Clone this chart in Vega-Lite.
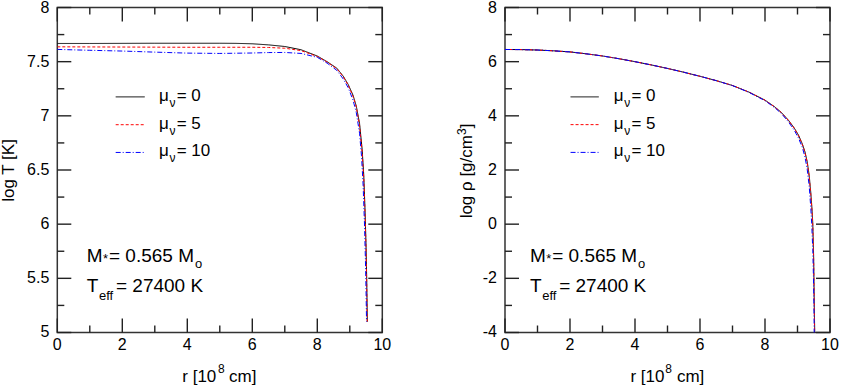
{
  "$schema": "https://vega.github.io/schema/vega-lite/v6.json",
  "padding": {"left": -1.7, "top": -1.5, "right": 5, "bottom": 5},
  "bounds": "flush",
  "spacing": 122.7,
  "config": {
    "view": {"stroke": "#333", "strokeWidth": 1.5},
    "font": "Liberation Sans"
  },
  "datasets": {
    "T": [
      {"mu": "0", "r": 0, "v": 7.668}, {"mu": "0", "r": 1, "v": 7.668}, {"mu": "0", "r": 2, "v": 7.669}, {"mu": "0", "r": 3, "v": 7.67}, {"mu": "0", "r": 4, "v": 7.67}, {"mu": "0", "r": 5, "v": 7.67}, {"mu": "0", "r": 5.5, "v": 7.669}, {"mu": "0", "r": 6, "v": 7.665}, {"mu": "0", "r": 6.5, "v": 7.655}, {"mu": "0", "r": 7, "v": 7.64}, {"mu": "0", "r": 7.5, "v": 7.61}, {"mu": "0", "r": 8, "v": 7.552}, {"mu": "0", "r": 8.3, "v": 7.5}, {"mu": "0", "r": 8.6, "v": 7.44}, {"mu": "0", "r": 8.8, "v": 7.365}, {"mu": "0", "r": 8.95, "v": 7.29}, {"mu": "0", "r": 9.1, "v": 7.19}, {"mu": "0", "r": 9.2, "v": 7.09}, {"mu": "0", "r": 9.3, "v": 6.93}, {"mu": "0", "r": 9.38, "v": 6.69}, {"mu": "0", "r": 9.43, "v": 6.45}, {"mu": "0", "r": 9.47, "v": 6.12}, {"mu": "0", "r": 9.5, "v": 5.8}, {"mu": "0", "r": 9.52, "v": 5.5}, {"mu": "0", "r": 9.54, "v": 5.1},
      {"mu": "5", "r": 0, "v": 7.637}, {"mu": "5", "r": 1, "v": 7.636}, {"mu": "5", "r": 2, "v": 7.635}, {"mu": "5", "r": 3, "v": 7.634}, {"mu": "5", "r": 4, "v": 7.633}, {"mu": "5", "r": 5, "v": 7.633}, {"mu": "5", "r": 6, "v": 7.633}, {"mu": "5", "r": 6.5, "v": 7.631}, {"mu": "5", "r": 7, "v": 7.624}, {"mu": "5", "r": 7.5, "v": 7.602}, {"mu": "5", "r": 8, "v": 7.548}, {"mu": "5", "r": 8.3, "v": 7.497}, {"mu": "5", "r": 8.6, "v": 7.435}, {"mu": "5", "r": 8.8, "v": 7.36}, {"mu": "5", "r": 8.95, "v": 7.283}, {"mu": "5", "r": 9.1, "v": 7.18}, {"mu": "5", "r": 9.2, "v": 7.08}, {"mu": "5", "r": 9.3, "v": 6.91}, {"mu": "5", "r": 9.38, "v": 6.66}, {"mu": "5", "r": 9.43, "v": 6.42}, {"mu": "5", "r": 9.47, "v": 6.08}, {"mu": "5", "r": 9.5, "v": 5.76}, {"mu": "5", "r": 9.52, "v": 5.45}, {"mu": "5", "r": 9.535, "v": 5.1},
      {"mu": "10", "r": 0, "v": 7.613}, {"mu": "10", "r": 1, "v": 7.605}, {"mu": "10", "r": 2, "v": 7.598}, {"mu": "10", "r": 3, "v": 7.588}, {"mu": "10", "r": 4, "v": 7.579}, {"mu": "10", "r": 5, "v": 7.576}, {"mu": "10", "r": 6, "v": 7.58}, {"mu": "10", "r": 6.5, "v": 7.584}, {"mu": "10", "r": 7, "v": 7.585}, {"mu": "10", "r": 7.5, "v": 7.576}, {"mu": "10", "r": 8, "v": 7.54}, {"mu": "10", "r": 8.3, "v": 7.487}, {"mu": "10", "r": 8.6, "v": 7.42}, {"mu": "10", "r": 8.8, "v": 7.34}, {"mu": "10", "r": 8.95, "v": 7.26}, {"mu": "10", "r": 9.1, "v": 7.145}, {"mu": "10", "r": 9.2, "v": 7.03}, {"mu": "10", "r": 9.3, "v": 6.84}, {"mu": "10", "r": 9.36, "v": 6.63}, {"mu": "10", "r": 9.41, "v": 6.36}, {"mu": "10", "r": 9.45, "v": 6.02}, {"mu": "10", "r": 9.48, "v": 5.68}, {"mu": "10", "r": 9.5, "v": 5.38}, {"mu": "10", "r": 9.515, "v": 5.1}
    ],
    "rho": [
      {"mu": "0", "r": 0, "v": 6.45}, {"mu": "0", "r": 0.5, "v": 6.445}, {"mu": "0", "r": 1, "v": 6.43}, {"mu": "0", "r": 1.5, "v": 6.4}, {"mu": "0", "r": 2, "v": 6.36}, {"mu": "0", "r": 2.5, "v": 6.29}, {"mu": "0", "r": 3, "v": 6.21}, {"mu": "0", "r": 3.5, "v": 6.11}, {"mu": "0", "r": 4, "v": 6.0}, {"mu": "0", "r": 4.5, "v": 5.88}, {"mu": "0", "r": 5, "v": 5.75}, {"mu": "0", "r": 5.5, "v": 5.61}, {"mu": "0", "r": 6, "v": 5.46}, {"mu": "0", "r": 6.5, "v": 5.3}, {"mu": "0", "r": 7, "v": 5.12}, {"mu": "0", "r": 7.5, "v": 4.88}, {"mu": "0", "r": 8, "v": 4.58}, {"mu": "0", "r": 8.3, "v": 4.33}, {"mu": "0", "r": 8.5, "v": 4.13}, {"mu": "0", "r": 8.72, "v": 3.84}, {"mu": "0", "r": 8.9, "v": 3.55}, {"mu": "0", "r": 9.03, "v": 3.29}, {"mu": "0", "r": 9.15, "v": 2.96}, {"mu": "0", "r": 9.23, "v": 2.67}, {"mu": "0", "r": 9.3, "v": 2.3}, {"mu": "0", "r": 9.36, "v": 1.8}, {"mu": "0", "r": 9.41, "v": 1.15}, {"mu": "0", "r": 9.45, "v": 0.5}, {"mu": "0", "r": 9.47, "v": 0.03}, {"mu": "0", "r": 9.49, "v": -0.8}, {"mu": "0", "r": 9.5, "v": -1.45}, {"mu": "0", "r": 9.51, "v": -2.3}, {"mu": "0", "r": 9.52, "v": -3.29}, {"mu": "0", "r": 9.535, "v": -4.3},
      {"mu": "5", "r": 0, "v": 6.45}, {"mu": "5", "r": 0.5, "v": 6.445}, {"mu": "5", "r": 1, "v": 6.43}, {"mu": "5", "r": 1.5, "v": 6.4}, {"mu": "5", "r": 2, "v": 6.36}, {"mu": "5", "r": 2.5, "v": 6.29}, {"mu": "5", "r": 3, "v": 6.21}, {"mu": "5", "r": 3.5, "v": 6.11}, {"mu": "5", "r": 4, "v": 6.0}, {"mu": "5", "r": 4.5, "v": 5.88}, {"mu": "5", "r": 5, "v": 5.75}, {"mu": "5", "r": 5.5, "v": 5.61}, {"mu": "5", "r": 6, "v": 5.46}, {"mu": "5", "r": 6.5, "v": 5.3}, {"mu": "5", "r": 7, "v": 5.12}, {"mu": "5", "r": 7.5, "v": 4.88}, {"mu": "5", "r": 8, "v": 4.575}, {"mu": "5", "r": 8.3, "v": 4.325}, {"mu": "5", "r": 8.5, "v": 4.12}, {"mu": "5", "r": 8.72, "v": 3.83}, {"mu": "5", "r": 8.9, "v": 3.54}, {"mu": "5", "r": 9.03, "v": 3.27}, {"mu": "5", "r": 9.15, "v": 2.94}, {"mu": "5", "r": 9.23, "v": 2.64}, {"mu": "5", "r": 9.3, "v": 2.26}, {"mu": "5", "r": 9.36, "v": 1.75}, {"mu": "5", "r": 9.41, "v": 1.08}, {"mu": "5", "r": 9.45, "v": 0.42}, {"mu": "5", "r": 9.47, "v": -0.05}, {"mu": "5", "r": 9.49, "v": -0.9}, {"mu": "5", "r": 9.5, "v": -1.55}, {"mu": "5", "r": 9.51, "v": -2.45}, {"mu": "5", "r": 9.52, "v": -3.45}, {"mu": "5", "r": 9.53, "v": -4.3},
      {"mu": "10", "r": 0, "v": 6.45}, {"mu": "10", "r": 0.5, "v": 6.445}, {"mu": "10", "r": 1, "v": 6.43}, {"mu": "10", "r": 1.5, "v": 6.4}, {"mu": "10", "r": 2, "v": 6.36}, {"mu": "10", "r": 2.5, "v": 6.29}, {"mu": "10", "r": 3, "v": 6.21}, {"mu": "10", "r": 3.5, "v": 6.11}, {"mu": "10", "r": 4, "v": 6.0}, {"mu": "10", "r": 4.5, "v": 5.88}, {"mu": "10", "r": 5, "v": 5.75}, {"mu": "10", "r": 5.5, "v": 5.61}, {"mu": "10", "r": 6, "v": 5.46}, {"mu": "10", "r": 6.5, "v": 5.3}, {"mu": "10", "r": 7, "v": 5.115}, {"mu": "10", "r": 7.5, "v": 4.87}, {"mu": "10", "r": 8, "v": 4.56}, {"mu": "10", "r": 8.3, "v": 4.3}, {"mu": "10", "r": 8.5, "v": 4.09}, {"mu": "10", "r": 8.72, "v": 3.78}, {"mu": "10", "r": 8.9, "v": 3.47}, {"mu": "10", "r": 9.03, "v": 3.18}, {"mu": "10", "r": 9.15, "v": 2.83}, {"mu": "10", "r": 9.23, "v": 2.48}, {"mu": "10", "r": 9.3, "v": 2.02}, {"mu": "10", "r": 9.36, "v": 1.4}, {"mu": "10", "r": 9.41, "v": 0.6}, {"mu": "10", "r": 9.44, "v": -0.05}, {"mu": "10", "r": 9.47, "v": -0.95}, {"mu": "10", "r": 9.49, "v": -1.9}, {"mu": "10", "r": 9.5, "v": -2.6}, {"mu": "10", "r": 9.51, "v": -3.5}, {"mu": "10", "r": 9.515, "v": -4.3}
    ],
    "xMaj": [{"t": 0}, {"t": 2}, {"t": 4}, {"t": 6}, {"t": 8}, {"t": 10}],
    "xMin": [{"t": 1}, {"t": 3}, {"t": 5}, {"t": 7}, {"t": 9}],
    "yMajT": [{"t": 5}, {"t": 5.5}, {"t": 6}, {"t": 6.5}, {"t": 7}, {"t": 7.5}, {"t": 8}],
    "yMinT": [{"t": 5.25}, {"t": 5.75}, {"t": 6.25}, {"t": 6.75}, {"t": 7.25}, {"t": 7.75}],
    "yMajR": [{"t": -4}, {"t": -2}, {"t": 0}, {"t": 2}, {"t": 4}, {"t": 6}, {"t": 8}],
    "yMinR": [{"t": -3}, {"t": -1}, {"t": 1}, {"t": 3}, {"t": 5}, {"t": 7}],
    "legT": [
      {"mu": "0", "x1": 1.797, "x2": 2.689, "y": 7.175},
      {"mu": "5", "x1": 1.797, "x2": 2.689, "y": 6.918},
      {"mu": "10", "x1": 1.797, "x2": 2.689, "y": 6.662}
    ],
    "legR": [
      {"mu": "0", "x1": 2.017, "x2": 2.886, "y": 4.7},
      {"mu": "5", "x1": 2.017, "x2": 2.886, "y": 3.675},
      {"mu": "10", "x1": 2.017, "x2": 2.886, "y": 2.65}
    ],
    "txtT": [
      {"kind": "label", "t": "μ", "x": 3.129, "y": 7.138},
      {"kind": "labelsub", "t": "ν", "x": 3.452, "y": 7.083},
      {"kind": "label", "t": "= 0", "x": 3.674, "y": 7.138},
      {"kind": "label", "t": "μ", "x": 3.129, "y": 6.882},
      {"kind": "labelsub", "t": "ν", "x": 3.452, "y": 6.827},
      {"kind": "label", "t": "= 5", "x": 3.674, "y": 6.882},
      {"kind": "label", "t": "μ", "x": 3.129, "y": 6.625},
      {"kind": "labelsub", "t": "ν", "x": 3.452, "y": 6.57},
      {"kind": "label", "t": "= 10", "x": 3.674, "y": 6.625},
      {"kind": "annot", "t": "M", "x": 0.905, "y": 5.65},
      {"kind": "annotsub", "t": "*", "x": 1.406, "y": 5.641},
      {"kind": "annot", "t": "= 0.565 M", "x": 1.591, "y": 5.65},
      {"kind": "annotsub", "t": "o", "x": 4.24, "y": 5.595},
      {"kind": "annot", "t": "T", "x": 0.905, "y": 5.374},
      {"kind": "annotsub", "t": "eff", "x": 1.283, "y": 5.3},
      {"kind": "annot", "t": "= 27400 K", "x": 1.806, "y": 5.374},
      {"kind": "label", "t": "r [10", "x": 3.846, "y": 4.543},
      {"kind": "labelsub", "t": "8", "x": 4.945, "y": 4.626},
      {"kind": "label", "t": "cm]", "x": 5.283, "y": 4.543}
    ],
    "ytT": [
      {"kind": "label", "t": "log T [K]", "x": -1.332, "y": 6.207}
    ],
    "txtR": [
      {"kind": "label", "t": "μ", "x": 3.347, "y": 4.553},
      {"kind": "labelsub", "t": "ν", "x": 3.669, "y": 4.332},
      {"kind": "label", "t": "= 0", "x": 3.89, "y": 4.553},
      {"kind": "label", "t": "μ", "x": 3.347, "y": 3.528},
      {"kind": "labelsub", "t": "ν", "x": 3.669, "y": 3.307},
      {"kind": "label", "t": "= 5", "x": 3.89, "y": 3.528},
      {"kind": "label", "t": "μ", "x": 3.347, "y": 2.503},
      {"kind": "labelsub", "t": "ν", "x": 3.669, "y": 2.282},
      {"kind": "label", "t": "= 10", "x": 3.89, "y": 2.503},
      {"kind": "annot", "t": "M", "x": 0.768, "y": -1.398},
      {"kind": "annotsub", "t": "*", "x": 1.268, "y": -1.435},
      {"kind": "annot", "t": "= 0.565 M", "x": 1.452, "y": -1.398},
      {"kind": "annotsub", "t": "o", "x": 4.095, "y": -1.62},
      {"kind": "annot", "t": "T", "x": 0.768, "y": -2.506},
      {"kind": "annotsub", "t": "eff", "x": 1.145, "y": -2.801},
      {"kind": "annot", "t": "= 27400 K", "x": 1.667, "y": -2.506},
      {"kind": "label", "t": "r [10", "x": 3.859, "y": -5.815},
      {"kind": "labelsub", "t": "8", "x": 4.934, "y": -5.494},
      {"kind": "label", "t": "cm]", "x": 5.29, "y": -5.815}
    ],
    "ytR": [
      {"kind": "label", "t": "log ρ [g/cm", "x": -1.004, "y": 0.214},
      {"kind": "labelsub", "t": "3", "x": -1.197, "y": 3.295},
      {"kind": "label", "t": "]", "x": -1.004, "y": 3.542}
    ]
  },
  "hconcat": [
    {
      "width": 325,
      "height": 325,
      "encoding": {
        "x": {"type": "quantitative", "scale": {"domain": [0, 10], "nice": false, "zero": false}},
        "y": {"type": "quantitative", "scale": {"domain": [5, 8], "nice": false, "zero": false}}
      },
      "layer": [
        {
          "data": {"name": "T"},
          "mark": {"type": "line", "strokeWidth": 1, "clip": true},
          "encoding": {
            "x": {"field": "r", "axis": null},
            "y": {"field": "v", "axis": null},
            "color": {"field": "mu", "type": "nominal", "scale": {"domain": ["0", "5", "10"], "range": ["#000000", "#ff0000", "#0000ff"]}, "legend": null},
            "strokeDash": {"field": "mu", "type": "nominal", "scale": {"domain": ["0", "5", "10"], "range": [[1, 0], [3, 2], [5, 2, 1, 2]]}, "legend": null}
          }
        },
        {
          "data": {"name": "xMaj"},
          "mark": {"type": "rule", "strokeWidth": 1.4, "color": "#222"},
          "encoding": {"x": {"field": "t", "axis": null}, "y": {"datum": 5, "axis": null}, "y2": {"datum": 5.1292}}
        },
        {
          "data": {"name": "xMaj"},
          "mark": {"type": "rule", "strokeWidth": 1.4, "color": "#222"},
          "encoding": {"x": {"field": "t", "axis": null}, "y": {"datum": 8, "axis": null}, "y2": {"datum": 7.8708}}
        },
        {
          "data": {"name": "xMin"},
          "mark": {"type": "rule", "strokeWidth": 1.4, "color": "#222"},
          "encoding": {"x": {"field": "t", "axis": null}, "y": {"datum": 5, "axis": null}, "y2": {"datum": 5.0646}}
        },
        {
          "data": {"name": "xMin"},
          "mark": {"type": "rule", "strokeWidth": 1.4, "color": "#222"},
          "encoding": {"x": {"field": "t", "axis": null}, "y": {"datum": 8, "axis": null}, "y2": {"datum": 7.9354}}
        },
        {
          "data": {"name": "yMajT"},
          "mark": {"type": "rule", "strokeWidth": 1.4, "color": "#222"},
          "encoding": {"y": {"field": "t", "axis": null}, "x": {"datum": 0, "axis": null}, "x2": {"datum": 0.4308}}
        },
        {
          "data": {"name": "yMajT"},
          "mark": {"type": "rule", "strokeWidth": 1.4, "color": "#222"},
          "encoding": {"y": {"field": "t", "axis": null}, "x": {"datum": 10, "axis": null}, "x2": {"datum": 9.5692}}
        },
        {
          "data": {"name": "yMinT"},
          "mark": {"type": "rule", "strokeWidth": 1.4, "color": "#222"},
          "encoding": {"y": {"field": "t", "axis": null}, "x": {"datum": 0, "axis": null}, "x2": {"datum": 0.2154}}
        },
        {
          "data": {"name": "yMinT"},
          "mark": {"type": "rule", "strokeWidth": 1.4, "color": "#222"},
          "encoding": {"y": {"field": "t", "axis": null}, "x": {"datum": 10, "axis": null}, "x2": {"datum": 9.7846}}
        },
        {
          "data": {"name": "xMaj"},
          "mark": {"type": "text", "align": "center", "baseline": "top", "dy": 5, "fontSize": 16, "font": "Liberation Sans", "color": "#000"},
          "encoding": {"x": {"field": "t", "axis": null}, "y": {"datum": 5, "axis": null}, "text": {"field": "t", "type": "nominal"}}
        },
        {
          "data": {"name": "yMajT"},
          "mark": {"type": "text", "align": "right", "baseline": "middle", "dx": -8, "fontSize": 16, "font": "Liberation Sans", "color": "#000"},
          "encoding": {"y": {"field": "t", "axis": null}, "x": {"datum": 0, "axis": null}, "text": {"field": "t", "type": "nominal"}}
        },
        {
          "data": {"name": "legT"},
          "mark": {"type": "rule", "strokeWidth": 1},
          "encoding": {
            "x": {"field": "x1", "axis": null},
            "x2": {"field": "x2"},
            "y": {"field": "y", "axis": null},
            "color": {"field": "mu", "type": "nominal", "scale": {"domain": ["0", "5", "10"], "range": ["#000000", "#ff0000", "#0000ff"]}, "legend": null},
            "strokeDash": {"field": "mu", "type": "nominal", "scale": {"domain": ["0", "5", "10"], "range": [[1, 0], [3, 2], [5, 2, 1, 2]]}, "legend": null}
          }
        },
        {
          "data": {"name": "txtT"},
          "transform": [{"filter": "datum.kind == 'annot'"}],
          "mark": {"type": "text", "fontSize": 19, "align": "left", "baseline": "alphabetic", "font": "Liberation Sans", "color": "#000"},
          "encoding": {"x": {"field": "x", "axis": null}, "y": {"field": "y", "axis": null}, "text": {"field": "t"}}
        },
        {
          "data": {"name": "txtT"},
          "transform": [{"filter": "datum.kind == 'annotsub'"}],
          "mark": {"type": "text", "fontSize": 13, "align": "left", "baseline": "alphabetic", "font": "Liberation Sans", "color": "#000"},
          "encoding": {"x": {"field": "x", "axis": null}, "y": {"field": "y", "axis": null}, "text": {"field": "t"}}
        },
        {
          "data": {"name": "txtT"},
          "transform": [{"filter": "datum.kind == 'label'"}],
          "mark": {"type": "text", "fontSize": 17, "align": "left", "baseline": "alphabetic", "font": "Liberation Sans", "color": "#000"},
          "encoding": {"x": {"field": "x", "axis": null}, "y": {"field": "y", "axis": null}, "text": {"field": "t"}}
        },
        {
          "data": {"name": "txtT"},
          "transform": [{"filter": "datum.kind == 'labelsub'"}],
          "mark": {"type": "text", "fontSize": 12, "align": "left", "baseline": "alphabetic", "font": "Liberation Sans", "color": "#000"},
          "encoding": {"x": {"field": "x", "axis": null}, "y": {"field": "y", "axis": null}, "text": {"field": "t"}}
        },
        {
          "data": {"name": "ytT"},
          "mark": {"type": "text", "fontSize": 17, "angle": 270, "align": "left", "baseline": "alphabetic", "font": "Liberation Sans", "color": "#000"},
          "encoding": {"x": {"field": "x", "axis": null}, "y": {"field": "y", "axis": null}, "text": {"field": "t"}}
        }
      ]
    },
    {
      "width": 325,
      "height": 325,
      "encoding": {
        "x": {"type": "quantitative", "scale": {"domain": [0, 10], "nice": false, "zero": false}},
        "y": {"type": "quantitative", "scale": {"domain": [-4, 8], "nice": false, "zero": false}}
      },
      "layer": [
        {
          "data": {"name": "rho"},
          "mark": {"type": "line", "strokeWidth": 1, "clip": true},
          "encoding": {
            "x": {"field": "r", "axis": null},
            "y": {"field": "v", "axis": null},
            "color": {"field": "mu", "type": "nominal", "scale": {"domain": ["0", "5", "10"], "range": ["#000000", "#ff0000", "#0000ff"]}, "legend": null},
            "strokeDash": {"field": "mu", "type": "nominal", "scale": {"domain": ["0", "5", "10"], "range": [[1, 0], [3, 2], [5, 2, 1, 2]]}, "legend": null}
          }
        },
        {
          "data": {"name": "xMaj"},
          "mark": {"type": "rule", "strokeWidth": 1.4, "color": "#222"},
          "encoding": {"x": {"field": "t", "axis": null}, "y": {"datum": -4, "axis": null}, "y2": {"datum": -3.483}}
        },
        {
          "data": {"name": "xMaj"},
          "mark": {"type": "rule", "strokeWidth": 1.4, "color": "#222"},
          "encoding": {"x": {"field": "t", "axis": null}, "y": {"datum": 8, "axis": null}, "y2": {"datum": 7.483}}
        },
        {
          "data": {"name": "xMin"},
          "mark": {"type": "rule", "strokeWidth": 1.4, "color": "#222"},
          "encoding": {"x": {"field": "t", "axis": null}, "y": {"datum": -4, "axis": null}, "y2": {"datum": -3.7415}}
        },
        {
          "data": {"name": "xMin"},
          "mark": {"type": "rule", "strokeWidth": 1.4, "color": "#222"},
          "encoding": {"x": {"field": "t", "axis": null}, "y": {"datum": 8, "axis": null}, "y2": {"datum": 7.7415}}
        },
        {
          "data": {"name": "yMajR"},
          "mark": {"type": "rule", "strokeWidth": 1.4, "color": "#222"},
          "encoding": {"y": {"field": "t", "axis": null}, "x": {"datum": 0, "axis": null}, "x2": {"datum": 0.4308}}
        },
        {
          "data": {"name": "yMajR"},
          "mark": {"type": "rule", "strokeWidth": 1.4, "color": "#222"},
          "encoding": {"y": {"field": "t", "axis": null}, "x": {"datum": 10, "axis": null}, "x2": {"datum": 9.5692}}
        },
        {
          "data": {"name": "yMinR"},
          "mark": {"type": "rule", "strokeWidth": 1.4, "color": "#222"},
          "encoding": {"y": {"field": "t", "axis": null}, "x": {"datum": 0, "axis": null}, "x2": {"datum": 0.2154}}
        },
        {
          "data": {"name": "yMinR"},
          "mark": {"type": "rule", "strokeWidth": 1.4, "color": "#222"},
          "encoding": {"y": {"field": "t", "axis": null}, "x": {"datum": 10, "axis": null}, "x2": {"datum": 9.7846}}
        },
        {
          "data": {"name": "xMaj"},
          "mark": {"type": "text", "align": "center", "baseline": "top", "dy": 5, "fontSize": 16, "font": "Liberation Sans", "color": "#000"},
          "encoding": {"x": {"field": "t", "axis": null}, "y": {"datum": -4, "axis": null}, "text": {"field": "t", "type": "nominal"}}
        },
        {
          "data": {"name": "yMajR"},
          "mark": {"type": "text", "align": "right", "baseline": "middle", "dx": -8, "fontSize": 16, "font": "Liberation Sans", "color": "#000"},
          "encoding": {"y": {"field": "t", "axis": null}, "x": {"datum": 0, "axis": null}, "text": {"field": "t", "type": "nominal"}}
        },
        {
          "data": {"name": "legR"},
          "mark": {"type": "rule", "strokeWidth": 1},
          "encoding": {
            "x": {"field": "x1", "axis": null},
            "x2": {"field": "x2"},
            "y": {"field": "y", "axis": null},
            "color": {"field": "mu", "type": "nominal", "scale": {"domain": ["0", "5", "10"], "range": ["#000000", "#ff0000", "#0000ff"]}, "legend": null},
            "strokeDash": {"field": "mu", "type": "nominal", "scale": {"domain": ["0", "5", "10"], "range": [[1, 0], [3, 2], [5, 2, 1, 2]]}, "legend": null}
          }
        },
        {
          "data": {"name": "txtR"},
          "transform": [{"filter": "datum.kind == 'annot'"}],
          "mark": {"type": "text", "fontSize": 19, "align": "left", "baseline": "alphabetic", "font": "Liberation Sans", "color": "#000"},
          "encoding": {"x": {"field": "x", "axis": null}, "y": {"field": "y", "axis": null}, "text": {"field": "t"}}
        },
        {
          "data": {"name": "txtR"},
          "transform": [{"filter": "datum.kind == 'annotsub'"}],
          "mark": {"type": "text", "fontSize": 13, "align": "left", "baseline": "alphabetic", "font": "Liberation Sans", "color": "#000"},
          "encoding": {"x": {"field": "x", "axis": null}, "y": {"field": "y", "axis": null}, "text": {"field": "t"}}
        },
        {
          "data": {"name": "txtR"},
          "transform": [{"filter": "datum.kind == 'label'"}],
          "mark": {"type": "text", "fontSize": 17, "align": "left", "baseline": "alphabetic", "font": "Liberation Sans", "color": "#000"},
          "encoding": {"x": {"field": "x", "axis": null}, "y": {"field": "y", "axis": null}, "text": {"field": "t"}}
        },
        {
          "data": {"name": "txtR"},
          "transform": [{"filter": "datum.kind == 'labelsub'"}],
          "mark": {"type": "text", "fontSize": 12, "align": "left", "baseline": "alphabetic", "font": "Liberation Sans", "color": "#000"},
          "encoding": {"x": {"field": "x", "axis": null}, "y": {"field": "y", "axis": null}, "text": {"field": "t"}}
        },
        {
          "data": {"name": "ytR"},
          "transform": [{"filter": "datum.kind == 'label'"}],
          "mark": {"type": "text", "fontSize": 17, "angle": 270, "align": "left", "baseline": "alphabetic", "font": "Liberation Sans", "color": "#000"},
          "encoding": {"x": {"field": "x", "axis": null}, "y": {"field": "y", "axis": null}, "text": {"field": "t"}}
        },
        {
          "data": {"name": "ytR"},
          "transform": [{"filter": "datum.kind == 'labelsub'"}],
          "mark": {"type": "text", "fontSize": 12, "angle": 270, "align": "left", "baseline": "alphabetic", "font": "Liberation Sans", "color": "#000"},
          "encoding": {"x": {"field": "x", "axis": null}, "y": {"field": "y", "axis": null}, "text": {"field": "t"}}
        }
      ]
    }
  ]
}
